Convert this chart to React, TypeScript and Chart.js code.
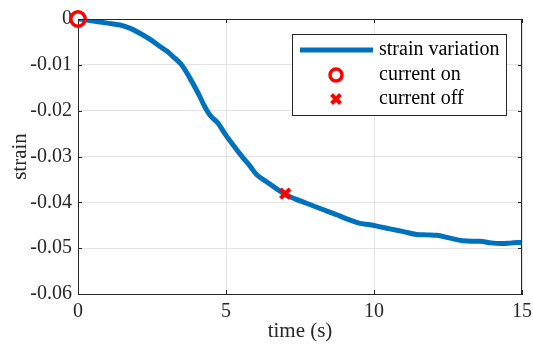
import React, { useEffect, useRef } from "react";
import { Chart, registerables } from "chart.js";

Chart.register(...registerables);

const timeS = [0, 0.3, 0.68, 1.0, 1.42, 1.75, 2.09, 2.45, 2.77, 3.0, 3.21, 3.5, 3.78, 4.06, 4.28, 4.46, 4.74, 4.96, 5.24, 5.59, 5.8, 6.04, 6.37, 6.7, 7.0, 7.35, 7.72, 8.2, 8.62, 8.85, 9.2, 9.53, 9.75, 10.1, 10.54, 11.0, 11.44, 11.8, 12.11, 12.5, 13.0, 13.3, 13.58, 13.9, 14.26, 14.6, 15];
const strainValues = [0, -0.0002, -0.0006, -0.0009, -0.0013, -0.002, -0.0031, -0.0045, -0.006, -0.007, -0.0082, -0.01, -0.0129, -0.0162, -0.0191, -0.021, -0.0228, -0.025, -0.0275, -0.0304, -0.032, -0.034, -0.0355, -0.037, -0.0383, -0.0393, -0.0402, -0.0414, -0.0424, -0.043, -0.0439, -0.0446, -0.0448, -0.0452, -0.0458, -0.0464, -0.047, -0.0471, -0.0472, -0.0477, -0.0484, -0.0485, -0.0485, -0.0488, -0.049, -0.0489, -0.0487];
const currentOn = [{ x: 0, y: 0 }];
const currentOff = [{ x: 7.0, y: -0.0381 }];
const legendLabels = ["strain variation", "current on", "current off"];
const xTitle = "time (s)";
const yTitle = "strain";

const BLUE = "#0072BD";
const RED = "#FF0000";
const AXIS = "#262626";
const SERIF = "'Liberation Serif', 'Times New Roman', serif";

const framePlugin = {
  id: "frame",
  afterDatasetsDraw(chart: any) {
    const { ctx, chartArea } = chart;
    const { left, right, top, bottom } = chartArea;
    const xs = chart.scales.x;
    const ys = chart.scales.y;
    ctx.save();
    ctx.strokeStyle = AXIS;
    ctx.lineWidth = 1;
    ctx.beginPath();
    ctx.moveTo(left, top + 0.5);
    ctx.lineTo(right, top + 0.5);
    ctx.moveTo(right - 0.5, top);
    ctx.lineTo(right - 0.5, bottom);
    const tl = 4;
    xs.ticks.forEach((t: any) => {
      const px = Math.round(xs.getPixelForValue(t.value)) + 0.5;
      ctx.moveTo(px, top);
      ctx.lineTo(px, top + tl);
      ctx.moveTo(px, bottom);
      ctx.lineTo(px, bottom - tl);
    });
    ys.ticks.forEach((t: any) => {
      const py = Math.round(ys.getPixelForValue(t.value)) + 0.5;
      ctx.moveTo(left, py);
      ctx.lineTo(left + tl, py);
      ctx.moveTo(right, py);
      ctx.lineTo(right - tl, py);
    });
    ctx.stroke();
    ctx.restore();
  },
  afterDraw(chart: any) {
    const { ctx } = chart;
    ctx.save();
    const bx = 292.5, by = 34.5, bw = 214, bh = 81;
    ctx.fillStyle = "#ffffff";
    ctx.fillRect(bx, by, bw, bh);
    ctx.strokeStyle = AXIS;
    ctx.lineWidth = 1;
    ctx.strokeRect(bx, by, bw, bh);
    const rows = [50, 75, 99];
    ctx.strokeStyle = BLUE;
    ctx.lineWidth = 5;
    ctx.beginPath();
    ctx.moveTo(300, rows[0]);
    ctx.lineTo(373, rows[0]);
    ctx.stroke();
    ctx.strokeStyle = RED;
    ctx.lineWidth = 3.5;
    ctx.beginPath();
    ctx.arc(336, rows[1], 6, 0, Math.PI * 2);
    ctx.stroke();
    ctx.lineWidth = 4;
    const r = 4.5;
    ctx.beginPath();
    ctx.moveTo(336 - r, rows[2] - r);
    ctx.lineTo(336 + r, rows[2] + r);
    ctx.moveTo(336 + r, rows[2] - r);
    ctx.lineTo(336 - r, rows[2] + r);
    ctx.stroke();
    ctx.fillStyle = "#000000";
    ctx.font = `20px ${SERIF}`;
    ctx.textAlign = "left";
    ctx.textBaseline = "middle";
    legendLabels.forEach((l, i) => ctx.fillText(l, 379, rows[i]));
    ctx.restore();
  },
};

export default function App() {
  const ref = useRef<HTMLCanvasElement | null>(null);
  useEffect(() => {
    if (!ref.current) return;
    const chart = new Chart(ref.current, {
      type: "line",
      data: {
        datasets: [
          {
            label: legendLabels[1],
            data: currentOn,
            showLine: false,
            clip: false,
            pointStyle: "circle",
            pointRadius: 7.2,
            pointBorderWidth: 3.5,
            pointBorderColor: RED,
            pointBackgroundColor: "rgba(0,0,0,0)",
            order: 0,
          },
          {
            label: legendLabels[2],
            data: currentOff,
            showLine: false,
            clip: false,
            pointStyle: "crossRot",
            pointRadius: 6.7,
            pointBorderWidth: 4,
            pointBorderColor: RED,
            order: 0,
          },
          {
            label: legendLabels[0],
            data: timeS.map((t, i) => ({ x: t, y: strainValues[i] })),
            borderColor: BLUE,
            borderWidth: 5,
            pointRadius: 0,
            cubicInterpolationMode: "monotone",
            fill: false,
            order: 1,
          },
        ],
      },
      plugins: [framePlugin],
      options: {
        animation: false,
        responsive: false,
        events: [],
        layout: { padding: { top: 19, right: 11, left: 0, bottom: 0 } },
        plugins: { legend: { display: false }, tooltip: { enabled: false } },
        scales: {
          x: {
            type: "linear",
            min: 0,
            max: 15,
            afterFit: (s: any) => { s.height = 52; s.paddingLeft = 0; s.paddingRight = 0; },
            ticks: {
              stepSize: 5,
              color: AXIS,
              font: { family: SERIF, size: 20 },
              padding: 6,
              maxRotation: 0,
            },
            grid: { color: "#e3e3e3", drawTicks: false, lineWidth: 1 },
            border: { display: true, color: AXIS, width: 1 },
            title: {
              display: true,
              text: xTitle,
              color: AXIS,
              font: { family: SERIF, size: 21 },
              padding: { top: 0, bottom: 2.4 },
            },
          },
          y: {
            type: "linear",
            min: -0.06,
            max: 0,
            afterFit: (s: any) => { s.width = 78; s.paddingTop = 0; s.paddingBottom = 0; },
            ticks: {
              stepSize: 0.01,
              color: AXIS,
              font: { family: SERIF, size: 20 },
              padding: 6,
              callback: (v: any) => {
                const n = Math.round(Number(v) * 100) / 100;
                return n === 0 ? "0" : n.toFixed(2);
              },
            },
            grid: { color: "#e3e3e3", drawTicks: false, lineWidth: 1 },
            border: { display: true, color: AXIS, width: 1 },
            title: {
              display: true,
              text: yTitle,
              color: AXIS,
              font: { family: SERIF, size: 21 },
              padding: { top: 7.4, bottom: 0 },
            },
          },
        },
      },
    } as any);
    return () => chart.destroy();
  }, []);
  return (
    <div style={{ position: "fixed", left: 0, top: 0, width: 533, height: 346, background: "#ffffff" }}>
      <canvas ref={ref} width={533} height={346} style={{ display: "block" }} />
    </div>
  );
}
